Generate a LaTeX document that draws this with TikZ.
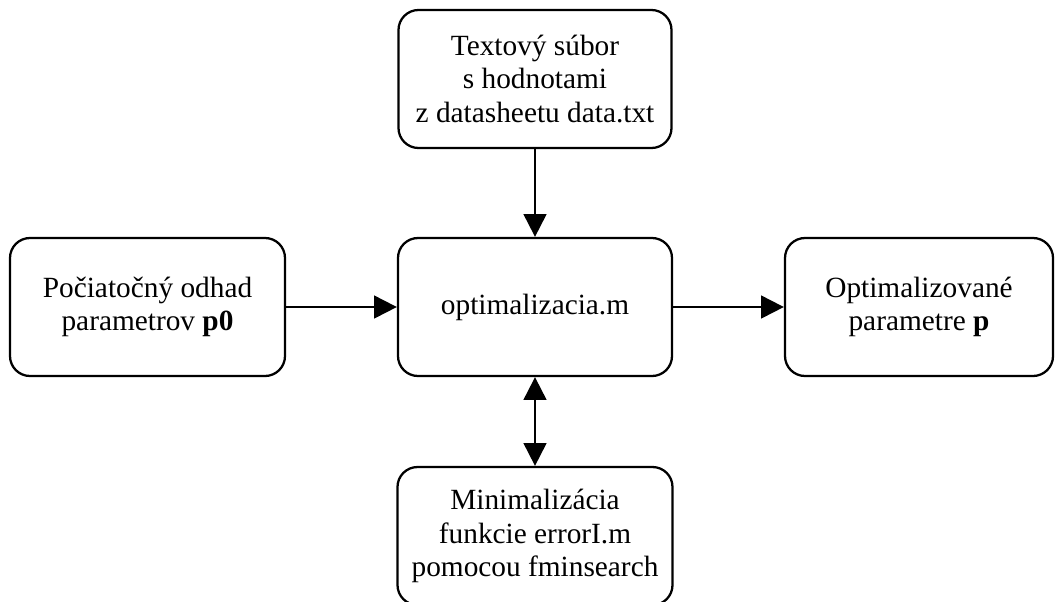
\documentclass[tikz,border=0pt]{standalone}
\usepackage{fontspec}
\setmainfont{Liberation Serif}
\usetikzlibrary{arrows.meta}
\begin{document}
\begin{tikzpicture}[x=0.75pt,y=-0.75pt,
  blk/.style={draw=black, line width=1.7pt, rounded corners=15pt, align=center,
    font=\fontsize{22}{25}\selectfont, inner sep=0pt},
  conn/.style={line width=1.5pt, -{Triangle[length=17pt,width=17pt]}},
  dconn/.style={line width=1.5pt, {Triangle[length=17pt,width=17pt]}-{Triangle[length=17pt,width=17pt]}}]
\useasboundingbox (0,0) rectangle (1055,601);
\clip (0,0) rectangle (1055,601);
\node[blk, minimum width=273*0.75pt, minimum height=138*0.75pt] (top) at (535,79) {Textový súbor\\s hodnotami\\z datasheetu data.txt};
\node[blk, minimum width=274*0.75pt, minimum height=138*0.75pt] (mid) at (535,307) {optimalizacia.m};
\node[blk, minimum width=275*0.75pt, minimum height=138*0.75pt] (left) at (147.5,307) {Počiatočný odhad\\parametrov \textbf{p0}};
\node[blk, minimum width=268*0.75pt, minimum height=138*0.75pt] (right) at (919,307) {Optimalizované\\parametre \textbf{p}};
\node[blk, minimum width=275*0.75pt, minimum height=138*0.75pt] (bot) at (535,536) {Minimalizácia\\funkcie errorI.m\\pomocou fminsearch};
\draw[conn] (top.south) -- (mid.north);
\draw[conn] (left.east) -- (mid.west);
\draw[conn] (mid.east) -- (right.west);
\draw[dconn] (mid.south) -- (bot.north);
\end{tikzpicture}
\end{document}
